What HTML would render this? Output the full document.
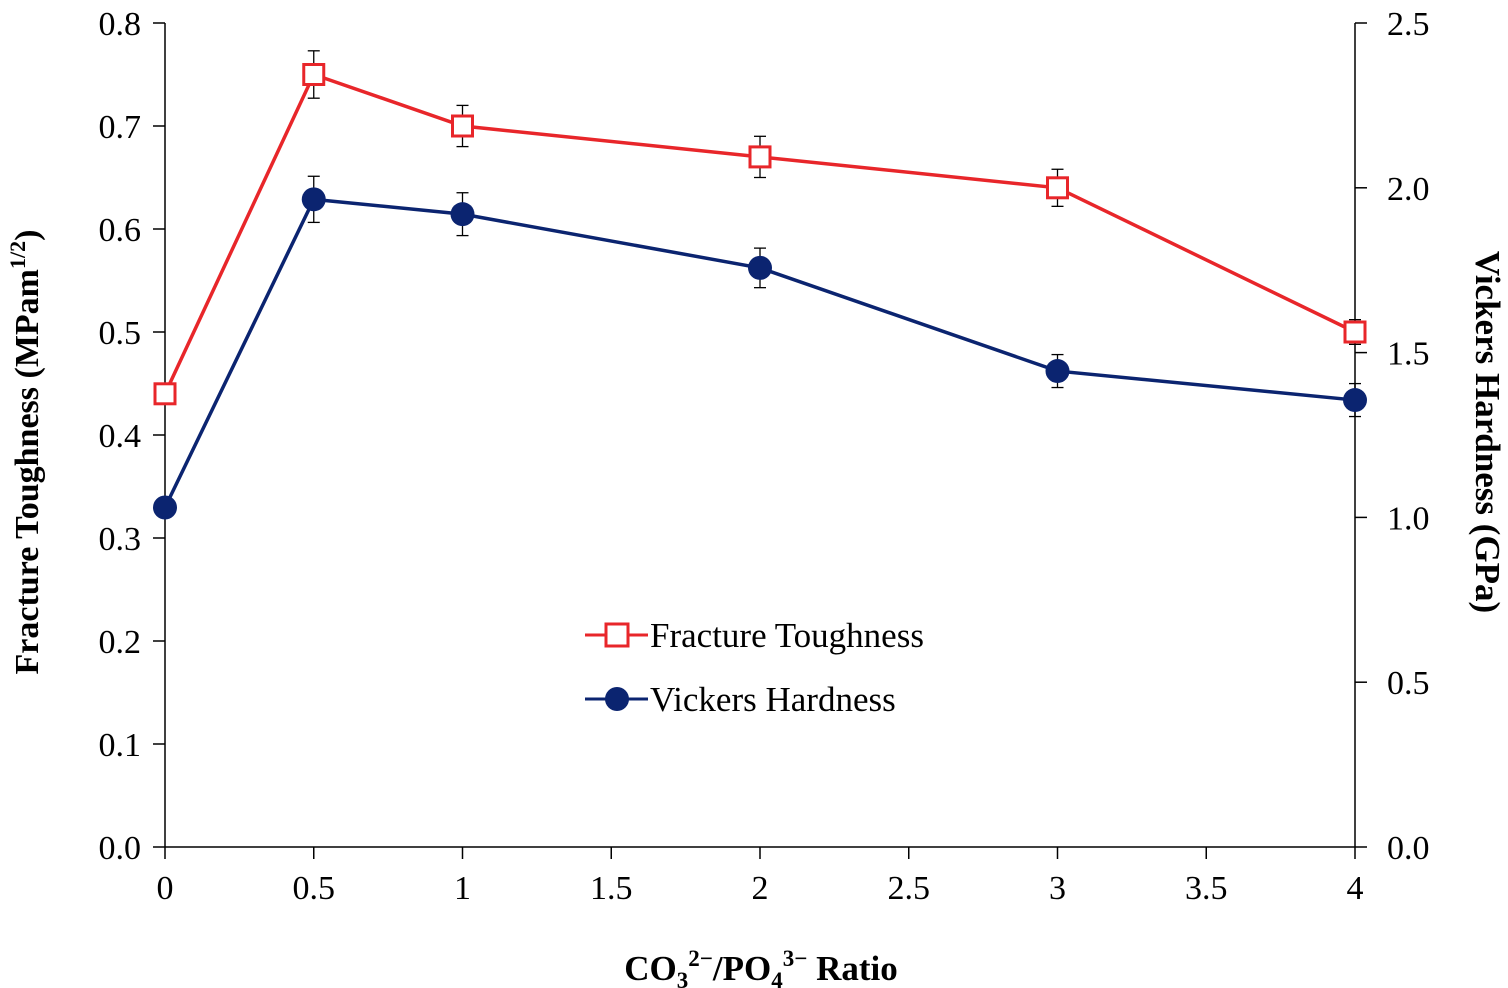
<!DOCTYPE html>
<html><head><meta charset="utf-8"><style>
html,body{margin:0;padding:0;background:#fff;}
svg{display:block;font-family:"Liberation Serif",serif;}
</style></head><body>
<svg id="chart" width="1508" height="988" viewBox="0 0 1508 988">
<g id="axes"></g>
<g id="series"></g>
<text x="761" y="980" text-anchor="middle" font-size="35" font-weight="bold">CO<tspan font-size="23" dy="8">3</tspan><tspan font-size="23" dy="-22">2−</tspan><tspan dy="14">/PO</tspan><tspan font-size="23" dy="8">4</tspan><tspan font-size="23" dy="-22">3−</tspan><tspan dy="14"> Ratio</tspan></text>
<text transform="translate(38,452) rotate(-90)" text-anchor="middle" font-size="34" font-weight="bold">Fracture Toughness (MPam<tspan font-size="22" dy="-13">1/2</tspan><tspan dy="13">)</tspan></text>
<text transform="translate(1476,432) rotate(90)" text-anchor="middle" font-size="35" font-weight="bold">Vickers Hardness (GPa)</text>
<g>
<g>
<line x1="585" y1="635" x2="648" y2="635" stroke="#e8262a" stroke-width="3"/>
<rect x="606" y="624" width="22" height="22" fill="#fff" stroke="#e8262a" stroke-width="3"/>
<text x="650" y="647" font-size="35">Fracture Toughness</text></g>
<g>
<line x1="585" y1="699" x2="648" y2="699" stroke="#0b2470" stroke-width="3"/>
<circle cx="617" cy="699" r="12" fill="#0b2470"/>
<text x="650" y="711" font-size="35">Vickers Hardness</text></g>
</g>
</svg>
<script>
const categories=[0,0.5,1,2,3,4];
const toughness=[0.44,0.75,0.70,0.67,0.64,0.50];
const toughnessErr=[0.01,0.023,0.02,0.02,0.018,0.012];
const hardness=[1.03,1.965,1.92,1.757,1.444,1.356];
const hardnessErr=[0.02,0.07,0.065,0.06,0.05,0.05];
const xTicks=["0","0.5","1","1.5","2","2.5","3","3.5","4"];
const leftTicks=["0.0","0.1","0.2","0.3","0.4","0.5","0.6","0.7","0.8"];
const rightTicks=["0.0","0.5","1.0","1.5","2.0","2.5"];
const NS="http://www.w3.org/2000/svg";
const X0=165,X1=1355,Y0=847,Y1=23;
const xs=v=>X0+(v/4)*(X1-X0);
const yl=v=>Y0-(v/0.8)*(Y0-Y1);
const yr=v=>Y0-(v/2.5)*(Y0-Y1);
function mk(p,t,a){const e=document.createElementNS(NS,t);for(const k in a)e.setAttribute(k,a[k]);p.appendChild(e);return e;}
const ax=document.getElementById('axes');
let e;
e=mk(ax,'line',{x1:X0,y1:Y1,x2:X0,y2:Y0,stroke:'#000','stroke-width':1.5});


e=mk(ax,'line',{x1:X1,y1:Y1,x2:X1,y2:Y0,stroke:'#000','stroke-width':1.5});


e=mk(ax,'line',{x1:X0,y1:Y0,x2:X1,y2:Y0,stroke:'#000','stroke-width':1.5});


xTicks.forEach(t=>{const x=xs(parseFloat(t));
mk(ax,'line',{x1:x,y1:Y0,x2:x,y2:Y0+12,stroke:'#000','stroke-width':1.5});
e=mk(ax,'text',{x:x,y:Y0+52,'text-anchor':'middle','font-size':34});e.textContent=t;

});
leftTicks.forEach(t=>{const y=yl(parseFloat(t));
mk(ax,'line',{x1:X0-12,y1:y,x2:X0,y2:y,stroke:'#000','stroke-width':1.5});
e=mk(ax,'text',{x:X0-24,y:y+12,'text-anchor':'end','font-size':34});e.textContent=t;

});
rightTicks.forEach(t=>{const y=yr(parseFloat(t));
mk(ax,'line',{x1:X1,y1:y,x2:X1+12,y2:y,stroke:'#000','stroke-width':1.5});
e=mk(ax,'text',{x:X1+32,y:y+12,'text-anchor':'start','font-size':34});e.textContent=t;

});
const sg=document.getElementById('series');
function err(x,y1,y2){mk(sg,'line',{x1:x,y1:y1,x2:x,y2:y2,stroke:'#000','stroke-width':1.3});
mk(sg,'line',{x1:x-6,y1:y1,x2:x+6,y2:y1,stroke:'#000','stroke-width':1.3});
mk(sg,'line',{x1:x-6,y1:y2,x2:x+6,y2:y2,stroke:'#000','stroke-width':1.3});}
categories.forEach((c,i)=>{err(xs(c),yl(toughness[i]+toughnessErr[i]),yl(toughness[i]-toughnessErr[i]));
err(xs(c),yr(hardness[i]+hardnessErr[i]),yr(hardness[i]-hardnessErr[i]));});
e=mk(sg,'polyline',{points:categories.map((c,i)=>xs(c)+','+yr(hardness[i])).join(' '),fill:'none',stroke:'#0b2470','stroke-width':3.5});


e=mk(sg,'polyline',{points:categories.map((c,i)=>xs(c)+','+yl(toughness[i])).join(' '),fill:'none',stroke:'#e8262a','stroke-width':3.5});


categories.forEach((c,i)=>{
e=mk(sg,'circle',{cx:xs(c),cy:yr(hardness[i]),r:12,fill:'#0b2470'});


e=mk(sg,'rect',{x:xs(c)-10,y:yl(toughness[i])-10,width:20,height:20,fill:'#fff',stroke:'#e8262a','stroke-width':3});

});
</script>
</body></html>
